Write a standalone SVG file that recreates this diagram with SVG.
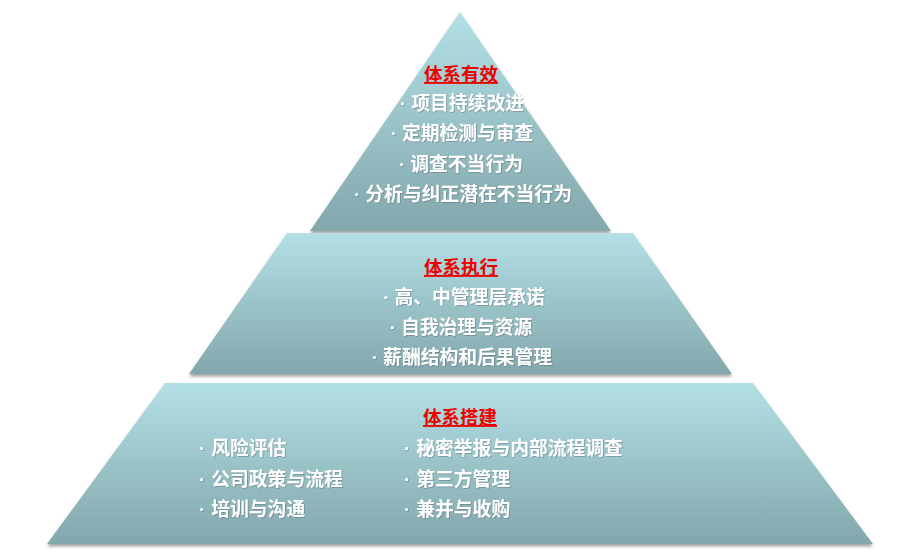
<svg xmlns="http://www.w3.org/2000/svg" width="920" height="560" viewBox="0 0 920 560">
<defs>
<linearGradient id="g" x1="0" y1="0" x2="0" y2="1">
<stop offset="0" stop-color="#b3e0e5"/>
<stop offset="1" stop-color="#82a7ac"/>
</linearGradient>
<filter id="sh" x="-10%" y="-10%" width="120%" height="125%">
<feDropShadow dx="0" dy="2.5" stdDeviation="1.5" flood-color="#555" flood-opacity="0.55"/>
</filter>
<filter id="ts" x="-5%" y="-20%" width="110%" height="150%">
<feDropShadow dx="0.8" dy="0.8" stdDeviation="0.6" flood-color="#456" flood-opacity="0.45"/>
</filter>
</defs>
<style>
.shape{fill:url(#g);filter:url(#sh);}
text{font-family:"Liberation Sans","Noto Sans CJK SC",sans-serif;font-weight:bold;font-size:18.8px;}
.t{fill:#ee0000;text-decoration:underline;text-anchor:middle;font-size:18.5px;}
.i{fill:#ffffff;filter:url(#ts);}
.c{text-anchor:middle;}
</style>
<rect width="920" height="560" fill="#ffffff"/>
<g id="top">
<polygon class="shape" points="460,12 611,231 310,231"/>
<text class="t" x="461" y="81">体系有效</text>
<text class="i c" x="462" y="110">·<tspan dx="5">项目持续改进</tspan></text>
<text class="i c" x="462" y="140">·<tspan dx="5">定期检测与审查</tspan></text>
<text class="i c" x="461" y="171">·<tspan dx="5">调查不当行为</tspan></text>
<text class="i c" x="463" y="201">·<tspan dx="5">分析与纠正潜在不当行为</tspan></text>
</g>
<g id="middle">
<polygon class="shape" points="287,233 633,233 732,374 189,374"/>
<text class="t" x="461" y="274">体系执行</text>
<text class="i c" x="464" y="304">·<tspan dx="5">高、中管理层承诺</tspan></text>
<text class="i c" x="461" y="334">·<tspan dx="5">自我治理与资源</tspan></text>
<text class="i c" x="462" y="364">·<tspan dx="5">薪酬结构和后果管理</tspan></text>
</g>
<g id="bottom">
<polygon class="shape" points="165,383 753,383 873,544 47,544"/>
<text class="t" x="460" y="424">体系搭建</text>
<text class="i" x="199" y="455">·<tspan dx="6">风险评估</tspan></text>
<text class="i" x="199" y="486">·<tspan dx="6">公司政策与流程</tspan></text>
<text class="i" x="199" y="516">·<tspan dx="6">培训与沟通</tspan></text>
<text class="i" x="404" y="455">·<tspan dx="6">秘密举报与内部流程调查</tspan></text>
<text class="i" x="404" y="486">·<tspan dx="6">第三方管理</tspan></text>
<text class="i" x="404" y="516">·<tspan dx="6">兼并与收购</tspan></text>
</g>
<g id="connectors"></g>
</svg>
